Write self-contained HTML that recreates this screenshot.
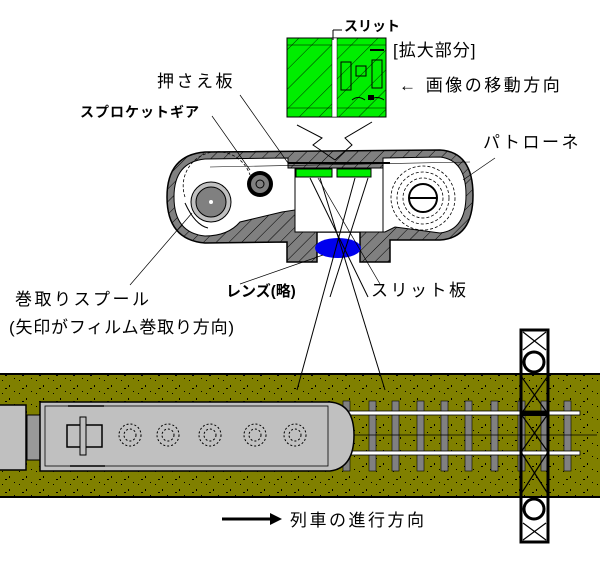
<!DOCTYPE html>
<html><head><meta charset="utf-8"><style>
html,body{margin:0;padding:0;background:#fff;}
svg{display:block}
text{font-family:"Liberation Sans","Noto Sans CJK JP",sans-serif;fill:#000;}
.L{font-size:17px;letter-spacing:2.5px}
</style></head><body>
<svg width="600" height="577" viewBox="0 0 600 577" xmlns="http://www.w3.org/2000/svg">
<defs>
<pattern id="h" width="9" height="9" patternUnits="userSpaceOnUse" patternTransform="rotate(45)">
<rect width="9" height="9" fill="#808080"/><line x1="0" y1="0" x2="0" y2="9" stroke="#000" stroke-width="1"/></pattern>
<pattern id="g" width="14" height="14" patternUnits="userSpaceOnUse" patternTransform="rotate(45)">
<rect width="14" height="14" fill="#00ee00"/><line x1="0" y1="0" x2="0" y2="14" stroke="#000" stroke-width="0.8"/></pattern>
<pattern id="dots" width="17" height="13" patternUnits="userSpaceOnUse">
<rect width="17" height="13" fill="#808000"/><rect x="2" y="3" width="1" height="1" fill="#000"/><rect x="9" y="8" width="1" height="2" fill="#000"/><rect x="14" y="1" width="1" height="1" fill="#000"/><rect x="5" y="11" width="2" height="1" fill="#000"/></pattern>
</defs>

<!-- ground -->
<rect x="0" y="374" width="600" height="123" fill="url(#dots)"/>
<line x1="0" y1="374" x2="600" y2="374" stroke="#000" stroke-width="2"/>
<line x1="0" y1="497" x2="600" y2="497" stroke="#000" stroke-width="2"/>
<!-- ties -->
<g fill="#808080" stroke="#000" stroke-width="0.6">
<rect x="343" y="401" width="7" height="70"/><rect x="369" y="401" width="7" height="70"/><rect x="392" y="401" width="7" height="70"/><rect x="417" y="401" width="7" height="70"/><rect x="441" y="401" width="7" height="70"/><rect x="465" y="401" width="7" height="70"/><rect x="491" y="401" width="7" height="70"/><rect x="518" y="401" width="7" height="70"/><rect x="541" y="401" width="7" height="70"/><rect x="564" y="401" width="7" height="70"/>
</g>
<rect x="349" y="411" width="231" height="4" fill="#fff" stroke="#000" stroke-width="0.8"/>
<rect x="349" y="451" width="231" height="4" fill="#fff" stroke="#000" stroke-width="0.8"/>
<line x1="0" y1="435" x2="597" y2="435" stroke="#000" stroke-width="0.8"/>
<!-- left car -->
<rect x="-2" y="405" width="28" height="65" fill="#c0c0c0" stroke="#000" stroke-width="1.5"/>
<rect x="27" y="415" width="17" height="45" fill="#999" stroke="#000"/>
<!-- main car -->
<path d="M40 402 H330 Q354 404 354 435 Q354 468 330 471 H40 Z" fill="#c0c0c0" stroke="#000" stroke-width="1.5"/>
<rect x="45" y="406" width="283" height="60" fill="none" stroke="#000" stroke-width="0.8"/>
<rect x="67" y="425" width="35" height="22" fill="none" stroke="#000" stroke-width="1.5"/>
<rect x="80" y="417" width="6" height="38" fill="#c0c0c0" stroke="#000"/>
<line x1="68" y1="406" x2="104" y2="406" stroke="#000" stroke-width="1.5"/>
<line x1="70" y1="466" x2="105" y2="466" stroke="#000" stroke-width="1.5"/>
<g fill="none" stroke="#000" stroke-dasharray="2 2">
<circle cx="130" cy="435" r="11"/><circle cx="130" cy="435" r="6"/>
<circle cx="168" cy="435" r="11"/><circle cx="168" cy="435" r="6"/>
<circle cx="210" cy="435" r="11"/><circle cx="210" cy="435" r="6"/>
<circle cx="255" cy="435" r="11"/><circle cx="255" cy="435" r="6"/>
<circle cx="295" cy="435" r="11"/><circle cx="295" cy="435" r="6"/>
</g>
<!-- tower -->
<rect x="521" y="330" width="27" height="212" fill="none" stroke="#000" stroke-width="3"/>
<g stroke="#000" stroke-width="1.2" fill="none">
<line x1="523" y1="332" x2="546" y2="350"/><line x1="546" y1="332" x2="523" y2="350"/>
<line x1="521" y1="376" x2="548" y2="414"/><line x1="548" y1="376" x2="521" y2="414"/>
<line x1="521" y1="414" x2="548" y2="452"/><line x1="548" y1="414" x2="521" y2="452"/>
<line x1="521" y1="452" x2="548" y2="494"/><line x1="548" y1="452" x2="521" y2="494"/>
<line x1="523" y1="523" x2="546" y2="540"/><line x1="546" y1="523" x2="523" y2="540"/>
</g>
<circle cx="534" cy="362" r="10" fill="#fff" stroke="#000" stroke-width="3"/>
<circle cx="534" cy="509" r="10" fill="#fff" stroke="#000" stroke-width="3"/>
<rect x="521" y="411" width="27" height="5" fill="#000"/>

<!-- camera body -->
<path d="M205 152 L440 150 Q473 152 473 195 Q473 238 440 240 L390 240 L390 262 L360 262 L360 232 L317 232 L317 262 L287 262 L287 242 L205 243 Q167 240 167 197 Q167 155 205 152 Z" fill="url(#h)" stroke="#000" stroke-width="1.5"/>
<path d="M205 159 L288 158 L288 168 L295 168 L295 210 L282 212 L240 222 Q228 236 205 236 Q174 233 174 197 Q174 162 205 159 Z" fill="#fff" stroke="#000"/>
<path d="M440 157 L383 158 L383 232 L385 232 L395 227 L440 233 Q466 230 466 195 Q466 160 440 157 Z" fill="#fff" stroke="#000"/>
<rect x="295" y="168" width="88" height="64" fill="#fff" stroke="#000"/>
<!-- film rolls -->
<g fill="none" stroke="#000" stroke-width="0.8" stroke-dasharray="3 2">
<circle cx="423" cy="198" r="32"/><circle cx="423" cy="198" r="26"/><circle cx="423" cy="198" r="20"/>
<path d="M185 197 A30 30 0 0 1 250 175"/>
</g>
<circle cx="423" cy="198" r="14" fill="#fff" stroke="#000" stroke-width="2"/>
<line x1="409" y1="198" x2="437" y2="198" stroke="#000" stroke-width="2"/>
<circle cx="211" cy="202" r="20" fill="#c0c0c0" stroke="#000"/>
<circle cx="211" cy="202" r="15" fill="#808080" stroke="#000"/>
<circle cx="211" cy="202" r="2" fill="#fff"/>
<circle cx="260" cy="184" r="13" fill="#000"/>
<circle cx="260" cy="184" r="9" fill="#808080"/>
<circle cx="260" cy="184" r="4" fill="none" stroke="#000"/>
<path d="M185 203 Q195 225 208 228" fill="none" stroke="#000"/>
<!-- pressure plate & slit plates -->
<line x1="288" y1="163" x2="390" y2="163" stroke="#000" stroke-width="2"/>
<line x1="210" y1="167" x2="470" y2="162" stroke="#000" stroke-width="0.6"/>
<rect x="296" y="169" width="36" height="8" fill="#00ee00" stroke="#000"/>
<rect x="337" y="169" width="34" height="8" fill="#00ee00" stroke="#000"/>
<ellipse cx="338" cy="248" rx="23" ry="10" fill="#0000ee"/>
<!-- rays -->
<g stroke="#000" stroke-width="1" fill="none">
<line x1="310" y1="178" x2="368" y2="297"/>
<line x1="355" y1="178" x2="297" y2="390"/>
<line x1="320" y1="178" x2="385" y2="390"/>
<line x1="368" y1="178" x2="330" y2="297"/>
<path d="M297 125 L322 138 L313 145 L335 160"/>
<path d="M372 122 L345 138 L352 145 L335 160"/>
</g>
<!-- zoom box -->
<rect x="287" y="38" width="99" height="79" fill="url(#g)" stroke="#000"/>
<line x1="287" y1="45" x2="386" y2="45" stroke="#000" stroke-width="0.6"/>
<line x1="287" y1="108" x2="386" y2="108" stroke="#000" stroke-width="0.6"/>
<rect x="332" y="38" width="5" height="79" fill="#fff" stroke="#000" stroke-width="0.5"/>
<g stroke="#000" fill="none" stroke-width="1">
<rect x="341" y="62" width="10" height="28"/><rect x="356" y="66" width="10" height="10"/><rect x="372" y="60" width="10" height="28"/>
<line x1="370" y1="50" x2="384" y2="50" stroke-width="2"/>
<path d="M352 100 Q358 95 365 100 M370 100 Q377 95 384 100"/>
</g>
<rect x="368" y="95" width="6" height="5" fill="#000"/>
<path d="M333 30 V40 M333 30 H342" stroke="#000" fill="none"/>
<!-- leader lines -->
<g stroke="#000" stroke-width="0.7" fill="none">
<line x1="240" y1="95" x2="288" y2="163"/>
<line x1="212" y1="116" x2="250" y2="170"/>
<line x1="130" y1="285" x2="192" y2="213"/>
<line x1="495" y1="158" x2="463" y2="180"/>
<line x1="240" y1="284" x2="323" y2="255"/>
<line x1="380" y1="284" x2="318" y2="178"/>
</g>
<!-- labels -->
<text x="344" y="31" font-size="14" font-weight="bold">スリット</text>
<text x="393" y="56" class="L" style="letter-spacing:1px">[拡大部分]</text>
<text x="399" y="91" class="L">← 画像の移動方向</text>
<text x="157" y="87" class="L">押さえ板</text>
<text x="80" y="117" font-size="14" font-weight="bold" letter-spacing="1">スプロケットギア</text>
<text x="483" y="148" class="L">パトローネ</text>
<text x="15" y="305" class="L">巻取りスプール</text>
<text x="9" y="333" class="L" style="letter-spacing:0.8px">(矢印がフィルム巻取り方向)</text>
<text x="226" y="296" font-size="15" font-weight="bold">レンズ(略)</text>
<text x="371" y="296" class="L">スリット板</text>
<line x1="222" y1="519" x2="272" y2="519" stroke="#000" stroke-width="3"/>
<path d="M270 513 L282 519 L270 525 Z" fill="#000"/>
<text x="290" y="526" class="L">列車の進行方向</text>
</svg>
</body></html>
